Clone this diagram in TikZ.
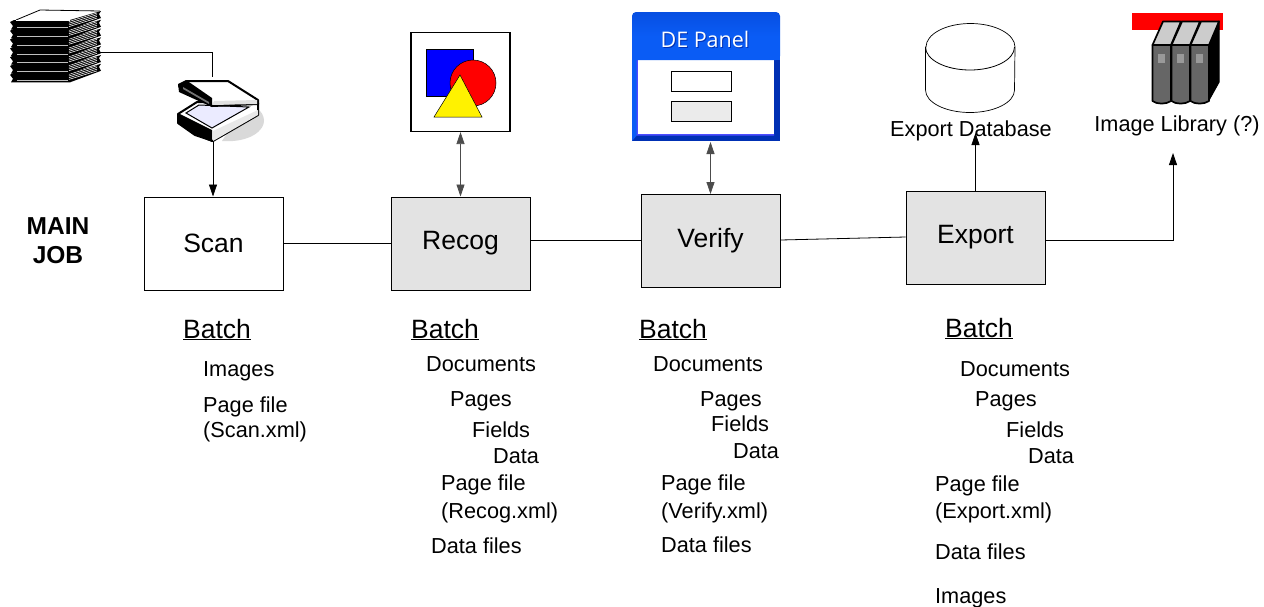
\documentclass[tikz,border=0pt]{standalone}
\usepackage{fontspec}
\setmainfont{Liberation Sans}
\newfontfamily\panelfont{Open Sans}
\usetikzlibrary{arrows.meta}
\definecolor{boxgray}{HTML}{E3E3E3}
\definecolor{panelblue}{HTML}{0A5CF5}
\definecolor{paneldark}{HTML}{0030B4}
\definecolor{bookgray}{HTML}{666666}
\tikzset{
  x=1pt,y=-1pt,
  whitebox/.style={draw=black,line width=1pt,fill=white,minimum width=139pt,minimum height=93pt,inner sep=0pt,font=\fontsize{26.5}{26.5}\selectfont},
  graybox/.style={whitebox,fill=boxgray},
  lbl/.style={anchor=base west,inner sep=0pt,font=\fontsize{21.7}{21.7}\selectfont},
  head/.style={anchor=base west,inner sep=0pt,font=\fontsize{26.5}{26.5}\selectfont},
  iconbox/.style={inner sep=0pt,minimum width=#1},
  conn/.style={draw=black,line width=0.8pt},
  tip/.style={-{Triangle[length=12pt,width=8pt]}},
  twotip/.style={{Triangle[length=12pt,width=8pt]}-{Triangle[length=12pt,width=8pt]}}
}
\begin{document}
\begin{tikzpicture}
\useasboundingbox (0,0) rectangle (1264,606);
% paper stack
\fill[white] (16,20) -- (40,10) -- (100,11) -- (70,20) -- cycle;
\draw[black,line width=0.8pt] (16,20) -- (40,10) -- (100,11);
\foreach \i in {6,5,4,3,2,1,0}{
  \begin{scope}[yshift=-\i*8.8pt]
    \fill[black] (10,22) -- (14,20) -- (70,20) -- (70,29.5) -- (11,29.5) -- (13,26) -- cycle;
    \fill[black] (70,20) -- (101,11) -- (99,14) -- (101,18) -- (70,29.5) -- cycle;
    \fill[black!25] (17,27.2) -- (68,27.2) -- (68,28) -- (17,28) -- cycle;
    \foreach \k in {0,1.7,3.4,5.1}{\draw[white,line width=0.55pt] (69,21.5+\k) -- (97,13+\k);}
  \end{scope}
}
\fill[white] (16,20) -- (70,20) -- (70,20.8) -- (16,20.8) -- cycle;
\node[iconbox=90pt,minimum height=68pt] (stack) at (55,44) {};
% scanner
\fill[black!15] (222,141) .. controls (250,143) and (265,130) .. (264,120) .. controls (263,110) and (255,106) .. (245,106) -- cycle;
\filldraw[fill=white,draw=black,line width=2pt,line join=round] (178,114) -- (197,102) -- (258,103) -- (258,115) -- (213,141) -- (195,135) -- (178,123) -- cycle;
\fill[black] (178,113) -- (212,130) -- (212,142) -- (195,135) -- (178,123) -- cycle;
\fill[white!70!black!30] (213,131) -- (258,110) -- (258,115) -- (213,141) -- cycle;
\filldraw[fill=blue!8,draw=black,line width=1pt] (186,113) -- (199,105) -- (249,107) -- (212,128) -- cycle;
\filldraw[fill=white,draw=black,line width=2pt,line join=round] (187,81) -- (228,81) -- (258,100) -- (258,104) -- (212,106) -- (179,86) -- cycle;
\fill[black!12] (214,101) -- (257,100) -- (257,104) -- (212,105) -- cycle;
\fill[black] (178,84) -- (186,80) -- (212,98) -- (212,107) -- (179,92) -- cycle;
\fill[black!55] (183,87) -- (209,102) -- (209,104) -- (183,89) -- cycle;
\node[iconbox=80pt,minimum height=61pt] (scanner) at (218,111) {};
% recog picture
\node[draw=black,line width=1.1pt,fill=white,minimum width=99pt,minimum height=99pt,inner sep=0pt] (recogpic) at (460.5,82) {};
\filldraw[fill=blue,draw=black,line width=0.5pt] (426,49) rectangle (473,96);
\filldraw[fill=red,draw=black,line width=0.5pt] (473,83) circle (23);
\filldraw[fill=yellow,draw=black,line width=0.5pt] (460,75) -- (482,117) -- (434,117) -- cycle;
% DE panel
\node[fill=white,draw=none,minimum width=148pt,minimum height=129pt,inner sep=0pt] (panel) at (706,76.5) {};
\fill[paneldark] (632,60) rectangle (780,141);
\fill[panelblue] (632,60) -- (638,60) -- (638,134) -- (632,141) -- cycle;
\fill[blue!70!white] (638,60) -- (638,134) -- (774,134) -- (774,135.5) -- (636.5,135.5) -- (636.5,60) -- cycle;
\fill[white] (638,60) rectangle (774,134);
\shade[top color=paneldark!30!panelblue,bottom color=panelblue,middle color=panelblue,rounded corners=4pt] (632,60) -- (632,12) -- (780,12) -- (780,60) -- cycle;
\fill[panelblue] (632,50) rectangle (780,60);
\node[text=paneldark,font=\panelfont\fontsize{21.5}{21.5}\selectfont,inner sep=0pt] at (706,40) {DE Panel};
\node[text=white,font=\panelfont\fontsize{21.5}{21.5}\selectfont,inner sep=0pt] at (705,39) {DE Panel};
\draw[black,line width=0.7pt,fill=white] (671,71) rectangle (731,91);
\draw[black,line width=0.7pt,fill=black!8] (671,101) rectangle (731,121);
% database
\node[inner sep=0pt,minimum width=90pt,minimum height=89pt] (db) at (970,67.5) {};
\draw[black,line width=0.7pt,fill=white] (925.5,47) -- (925.5,90) arc[start angle=180,end angle=360,x radius=44.5,y radius=-22.5] -- (1015,47) arc[start angle=0,end angle=180,x radius=44.5,y radius=-23.5] -- cycle;
\draw[black,line width=0.8pt] (925.5,47) arc[start angle=180,end angle=360,x radius=44.5,y radius=-23];
% books
\fill[red] (1132,13) rectangle (1223,30);
\node[inner sep=0pt,minimum width=68pt,minimum height=84pt] (books) at (1185,62) {};
\filldraw[fill=black,draw=black,line width=1.2pt,line join=round] (1209,45) -- (1219,21) -- (1219,82) -- (1209,100) -- cycle;
\foreach \dx in {0,19,38}{
  \begin{scope}[xshift=\dx pt]
    \filldraw[fill=bookgray,draw=black,line width=1.7pt,line join=round] (1152.5,45) -- (1171,45) -- (1171,101) .. controls (1166,104.5) and (1157,104.5) .. (1152.5,101) -- cycle;
    \filldraw[fill=black!20,draw=black,line width=1.7pt,line join=round] (1152.5,45) -- (1163,21.5) -- (1181,21.5) -- (1171,45) -- cycle;
    \fill[black!40] (1158,54) rectangle (1165,63);
  \end{scope}
}
% process boxes
\node[whitebox] (scan) at (213.5,243.5) {Scan};
\node[graybox] (recog) at (460.5,243.5) {Recog};
\node[graybox] (verify) at (710.5,241) {Verify};
\node[graybox] (export) at (975.5,237.5) {Export};
% connector ends
\coordinate (scanbend) at (212,52);
\coordinate (scantop) at (212,77);
\coordinate (dbend) at (975.5,133);
\coordinate (libbend) at (1173,240);
\coordinate (libend) at (1173,153);
% connectors
\draw[conn] (stack.east |- scanbend) -- (scanbend) -- (scantop);
\draw[conn,tip] (213,141) -- (scan.north -| 213,0);
\draw[conn] (scan.east) -- (recog.west);
\draw[conn] (recog.east |- 0,240) -- (verify.west |- 0,240);
\draw[conn] (verify.east |- 0,240) -- (export.west |- 0,237);
\draw[conn,twotip,draw=black!70] (recogpic.south) -- (recog.north);
\draw[conn,twotip,draw=black!70] (710.5,142) -- (verify.north);
\draw[conn,tip] (export.north) -- (dbend);
\draw[conn,tip] (export.east |- libbend) -- (libbend) -- (libend);
% labels
\node[lbl,anchor=base] (dblabel) at (971,136) {Export Database};
\node[lbl,anchor=base] (liblabel) at (1177,131) {Image Library (?)};
\node[align=center,inner sep=0pt,font=\bfseries\fontsize{24.5}{29}\selectfont] (mainjob) at (58,241) {MAIN\\JOB};
% Scan column
\node[head] (b1) at (183,338) {\underline{Batch}};
\node[lbl] (s1) at (203,376) {Images};
\node[lbl] (s2) at (203,412) {Page file};
\node[lbl] (s3) at (203,437) {(Scan.xml)};
% Recog column
\node[head] (b2) at (411,338) {\underline{Batch}};
\node[lbl] (r1) at (426,371) {Documents};
\node[lbl] (r2) at (450,406) {Pages};
\node[lbl] (r3) at (472,437) {Fields};
\node[lbl] (r4) at (493,463) {Data};
\node[lbl] (r5) at (441,490) {Page file};
\node[lbl] (r6) at (441,518) {(Recog.xml)};
\node[lbl] (r7) at (431,553) {Data files};
% Verify column
\node[head] (b3) at (639,338) {\underline{Batch}};
\node[lbl] (v1) at (653,371) {Documents};
\node[lbl] (v2) at (700,406) {Pages};
\node[lbl] (v3) at (711,431) {Fields};
\node[lbl] (v4) at (733,458) {Data};
\node[lbl] (v5) at (661,490) {Page file};
\node[lbl] (v6) at (661,518) {(Verify.xml)};
\node[lbl] (v7) at (661,552) {Data files};
% Export column
\node[head] (b4) at (945,337) {\underline{Batch}};
\node[lbl] (e1) at (960,376) {Documents};
\node[lbl] (e2) at (975,406) {Pages};
\node[lbl] (e3) at (1006,437) {Fields};
\node[lbl] (e4) at (1028,463) {Data};
\node[lbl] (e5) at (935,491) {Page file};
\node[lbl] (e6) at (935,518) {(Export.xml)};
\node[lbl] (e7) at (935,559) {Data files};
\node[lbl] (e8) at (935,603) {Images};
\end{tikzpicture}
\end{document}
